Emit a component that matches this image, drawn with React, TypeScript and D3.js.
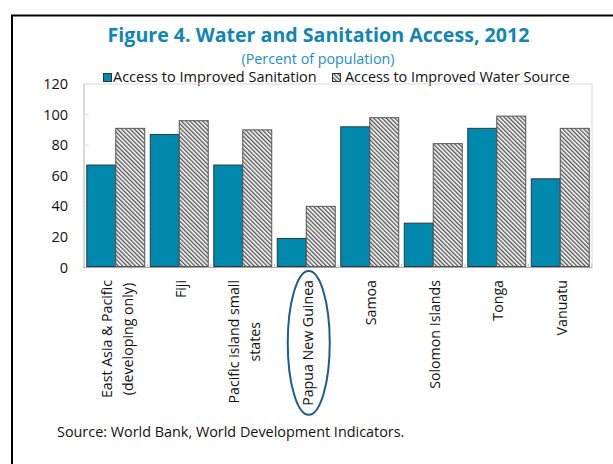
import * as d3 from "d3";

const categories = [
  "East Asia & Pacific\n(developing only)",
  "Fiji",
  "Pacific island small\nstates",
  "Papua New Guinea",
  "Samoa",
  "Solomon Islands",
  "Tonga",
  "Vanuatu",
];
const sanitation = [67, 87, 67, 19, 92, 29, 91, 58];
const waterSource = [91, 96, 90, 40, 98, 81, 99, 91];
const yTicks = [0, 20, 40, 60, 80, 100, 120];
const seriesNames = ["Access to Improved Sanitation", "Access to Improved Water Source"];
const highlighted = "Papua New Guinea";

const W = 613;
const H = 464;
const FONT = "'Open Sans', 'Noto Sans', sans-serif";
const TEAL = "#0089ad";
const TITLE_BLUE = "#0f86b6";

// rough text width via canvas, used for centring the rotated labels
const measure = (() => {
  let ctx: CanvasRenderingContext2D | null = null;
  return (s: string, font: string) => {
    if (!ctx) ctx = document.createElement("canvas").getContext("2d");
    if (!ctx) return s.length * 7;
    ctx.font = font;
    return ctx.measureText(s).width;
  };
})();

export default function App() {
  const plot = { left: 84, right: 592, top: 84, bottom: 267.5 };

  const x = d3
    .scaleBand<string>()
    .domain(categories)
    .range([plot.left, plot.right])
    .paddingInner(0.087)
    .paddingOuter(0.0435);
  const xs = d3
    .scaleBand<string>()
    .domain(["s", "w"])
    .range([0, x.bandwidth()]);
  const y = d3.scaleLinear().domain([0, 120]).range([plot.bottom, plot.top]);

  const labelFont = `14.2px ${FONT}`;
  const labelTop = 280;
  const lineH = 21;

  const step = x.step();

  return (
    <svg
      width={W}
      height={H}
      style={{ position: "fixed", left: 0, top: 0, background: "#fff" }}
      fontFamily={FONT}
    >
      <defs>
        <pattern
          id="hatch"
          patternUnits="userSpaceOnUse"
          width={3}
          height={3}
          patternTransform="rotate(-45)"
        >
          <rect width={3} height={3} fill="#fff" />
          <line x1={0.7} y1={0} x2={0.7} y2={3} stroke="#4a4a4a" strokeWidth={1.3} />
        </pattern>
      </defs>

      {/* outer frame */}
      <rect x={12} y={15.5} width={W + 10} height={H + 10} fill="none" stroke="#000" strokeWidth={2} />

      {/* titles */}
      <text x={318.5} y={42} textAnchor="middle" fontSize={19.6} fontWeight={700} fill={TITLE_BLUE}>
        Figure 4. Water and Sanitation Access, 2012
      </text>
      <text x={318} y={64} textAnchor="middle" fontSize={14.3} fill="#1d8ccc">
        (Percent of population)
      </text>

      {/* legend */}
      <rect x={103.5} y={73.5} width={8} height={8} fill={TEAL} stroke="#333" strokeWidth={1} />
      <text x={113} y={82} fontSize={14.5} fill="#111">
        {seriesNames[0]}
      </text>
      <rect x={332.5} y={73.5} width={8} height={8} fill="url(#hatch)" stroke="#333" strokeWidth={1} />
      <text x={345} y={82} fontSize={14.4} fill="#111">
        {seriesNames[1]}
      </text>

      {/* plot frame */}
      <rect
        x={plot.left}
        y={plot.top}
        width={plot.right - plot.left}
        height={plot.bottom - plot.top}
        fill="none"
        stroke="#d9d9d9"
        strokeWidth={1}
      />

      {/* y axis */}
      <line x1={plot.left} x2={plot.left} y1={plot.top} y2={plot.bottom} stroke="#c6c6c6" />
      {yTicks.map((t) => (
        <g key={t}>
          <line x1={plot.left} x2={plot.left + 5} y1={y(t)} y2={y(t)} stroke="#e0e0e0" />
          <text x={68} y={y(t)} dy="0.35em" textAnchor="end" fontSize={14.5} fill="#111">
            {t}
          </text>
        </g>
      ))}

      {/* bars */}
      {categories.map((c, i) => {
        const x0 = x(c) ?? 0;
        return (
          <g key={c}>
            <rect
              x={x0 + (xs("s") ?? 0)}
              y={y(sanitation[i])}
              width={xs.bandwidth()}
              height={y(0) - y(sanitation[i]) - 1}
              fill={TEAL}
              stroke="#2b3a40"
              strokeWidth={1}
            />
            <rect
              x={x0 + (xs("w") ?? 0)}
              y={y(waterSource[i])}
              width={xs.bandwidth()}
              height={y(0) - y(waterSource[i]) - 1}
              fill="url(#hatch)"
              stroke="#555"
              strokeWidth={1}
            />
          </g>
        );
      })}

      {/* x axis */}
      <line x1={plot.left} x2={plot.right} y1={plot.bottom} y2={plot.bottom} stroke="#a6a6a6" strokeWidth={1.2} />
      {d3.range(categories.length + 1).map((k) => {
        const xx = plot.left + k * step;
        return <line key={k} x1={xx} x2={xx} y1={plot.bottom} y2={plot.bottom - 4} stroke="#c6c6c6" />;
      })}

      {/* x labels, rotated */}
      {categories.map((c) => {
        const lines = c.split("\n");
        const maxLen = d3.max(lines, (l) => measure(l, labelFont)) ?? 0;
        const cx = (x(c) ?? 0) + x.bandwidth() / 2 + 1.5;
        const cy = labelTop + maxLen / 2;
        return (
          <g key={c}>
            <g transform={`translate(${cx},${cy}) rotate(-90)`}>
              {lines.map((l, j) => (
                <text
                  key={j}
                  x={0}
                  y={(j - (lines.length - 1) / 2) * lineH}
                  dy="0.35em"
                  textAnchor="middle"
                  fontSize={14.2}
                  fill="#111"
                >
                  {l}
                </text>
              ))}
            </g>
            {c === highlighted && (
              <ellipse
                cx={cx + 1}
                cy={cy}
                rx={21}
                ry={maxLen / 2 + 9}
                fill="none"
                stroke="#1b5e8c"
                strokeWidth={2}
              />
            )}
          </g>
        );
      })}

      {/* source */}
      <text x={57} y={437} fontSize={14.4} fill="#111">
        Source: World Bank, World Development Indicators.
      </text>
    </svg>
  );
}
